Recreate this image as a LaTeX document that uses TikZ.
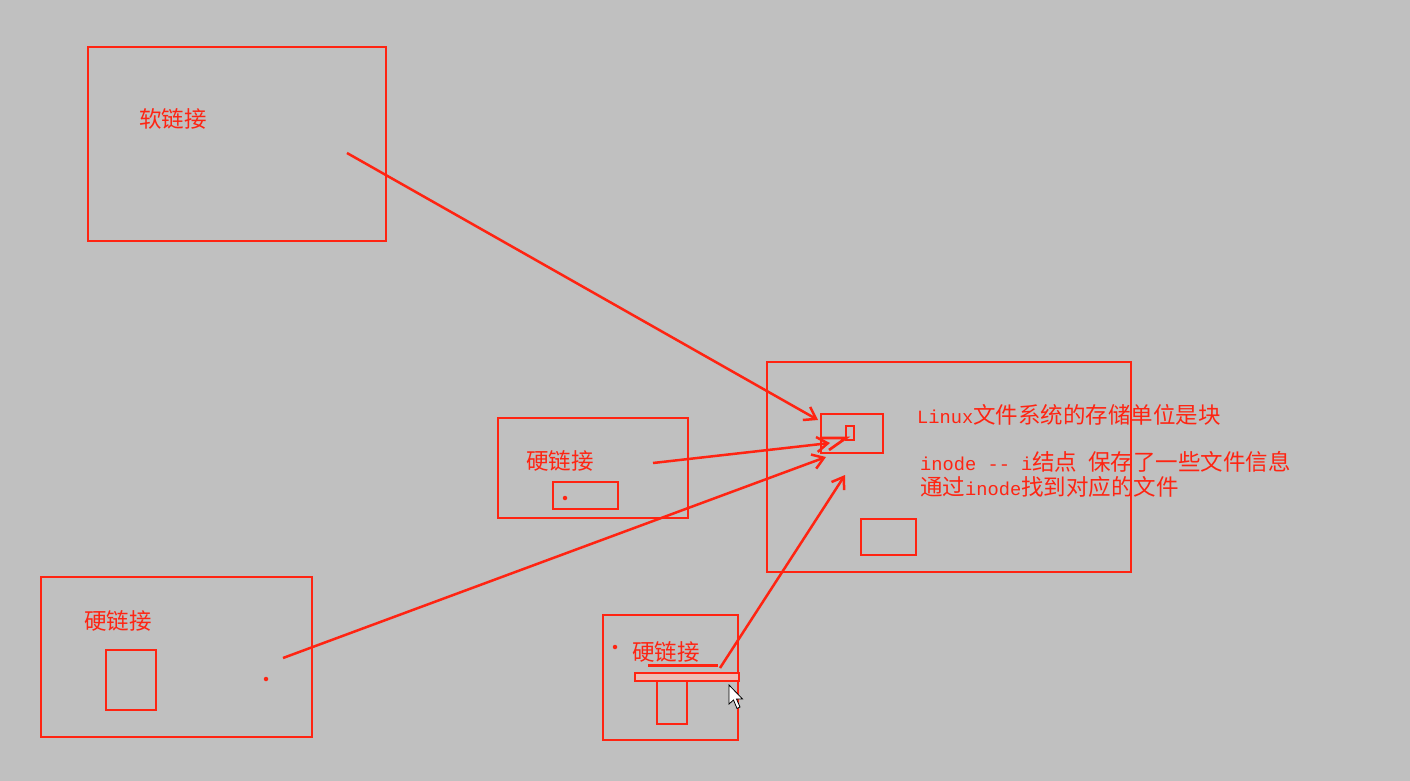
\documentclass[tikz,border=0pt]{standalone}
\usepackage{fontspec}
\setmonofont{Liberation Mono}
\newfontfamily\cjk{Noto Sans CJK SC}
\usetikzlibrary{arrows.meta}
\definecolor{bg}{HTML}{C0C0C0}
\definecolor{pen}{HTML}{FF2412}
\definecolor{barfill}{HTML}{EDBDB5}
\newcommand\latn[1]{{\ttfamily\fontsize{18.7}{22}\selectfont #1}}
\begin{document}
\begin{tikzpicture}[x=1pt,y=-1pt,
  box/.style={draw=pen,line width=2.7pt,inner sep=0pt,outer sep=0pt,anchor=north west},
  lbl/.style={text=pen,font=\cjk\fontsize{22.5}{26}\selectfont,inner sep=0pt},
  info/.style={text=pen,font=\cjk\fontsize{22.5}{26}\selectfont,inner sep=0pt,anchor=west},
  link/.style={draw=pen,line width=2.5pt,-{Straight Barb[length=11pt,width=15pt,line width=2.5pt]}},
  dotn/.style={circle,fill=pen,inner sep=0pt,minimum size=4.5pt}]
\fill[bg] (0,0) rectangle (1410,781);
\useasboundingbox (0,0) rectangle (1410,781);

% soft link box
\node[box,minimum width=298pt,minimum height=194pt] (soft) at (88,47) {};
\node[lbl] (softlbl) at (173,119) {软链接};
\coordinate (s1) at (347,153);

% main box
\node[box,minimum width=364pt,minimum height=210pt] (main) at (767,362) {};
\node[box,minimum width=62pt,minimum height=39pt] (blk) at (821,414) {};
\node[box,minimum width=8pt,minimum height=14pt] (tiny) at (846,426) {};
\node[box,minimum width=55pt,minimum height=36pt] (blk2) at (861,519) {};
\draw[pen,line width=2.7pt] (822,438) -- (846,438) -- (829,450);
\coordinate (t1) at (818,420);
\coordinate (t2) at (830,443);
\coordinate (t3) at (826,457);
\coordinate (t4) at (845,475);

\node[info] (l1) at (917,415) {\latn{Linux}文件系统的存储单位是块};
\node[info] (l2) at (920,462) {\latn{inode -{}- i}结点\hspace{11pt}保存了一些文件信息};
\node[info] (l3) at (920,487) {通过\latn{inode}找到对应的文件};

% hard link box 1
\node[box,minimum width=190pt,minimum height=100pt] (h1) at (498,418) {};
\node[lbl] (h1lbl) at (560,461) {硬链接};
\node[box,minimum width=65pt,minimum height=27pt] (h1in) at (553,482) {};
\node[dotn] (h1dot) at (565,498) {};
\coordinate (s2) at (653,463);

% hard link box 2
\node[box,minimum width=271pt,minimum height=160pt] (h2) at (41,577) {};
\node[lbl] (h2lbl) at (118,621) {硬链接};
\node[box,minimum width=50pt,minimum height=60pt] (h2in) at (106,650) {};
\node[dotn] (h2dot) at (266,679) {};
\coordinate (s3) at (283,658);

% hard link box 3
\node[box,minimum width=135pt,minimum height=125pt] (h3) at (603,615) {};
\node[lbl] (h3lbl) at (666,652) {硬链接};
\node[dotn] (h3dot) at (615,647) {};
\coordinate (u1) at (648,665);
\coordinate (u2) at (718,665);
\draw[pen,line width=3pt] (u1) -- (u2);
\node[box,minimum width=30pt,minimum height=45pt] (h3in) at (657,679) {};
\node[box,fill=barfill,minimum width=104pt,minimum height=8pt] (bar) at (635,673) {};
\coordinate (s4) at (720,668);

% connectors
\draw[link] (s1) -- (t1);
\draw[link] (s2) -- (t2);
\draw[link] (s3) -- (t3);
\draw[link] (s4) -- (t4);

% mouse cursor
\draw[black,fill=white,line width=0.8pt,line join=miter]
  (729,685) -- (729,704) -- (733.5,700) -- (737,708.5) -- (740,707) -- (736.5,699) -- (742.5,699) -- cycle;
\end{tikzpicture}
\end{document}
